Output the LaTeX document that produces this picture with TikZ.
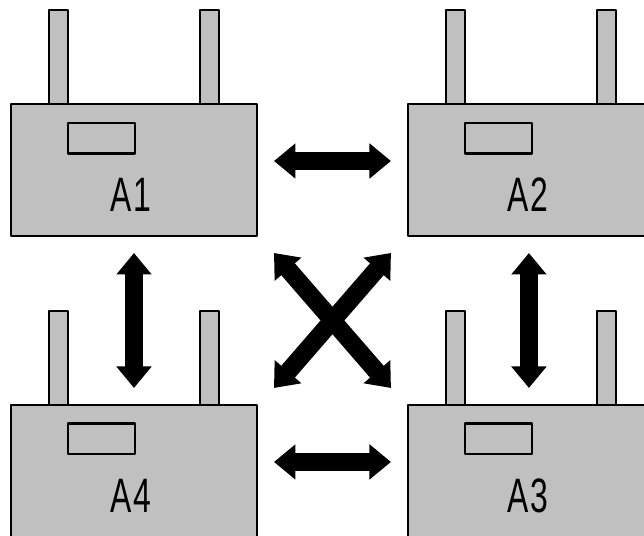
\documentclass[tikz,border=0pt]{standalone}
\usepackage{fontspec}
\usepackage{tikz}
\usetikzlibrary{positioning, arrows.meta}
\newfontfamily\unitfont[FakeStretch=0.66, LetterSpace=4]{Liberation Sans}
\definecolor{unitgray}{HTML}{C0C0C0}

\begin{document}
\begin{tikzpicture}[x=0.02cm, y=-0.02cm, on grid,
    framed/.style={draw, fill=unitgray, line width=0.05cm, line join=round, outer sep=0pt, inner sep=0pt},
    unit/.style={framed, minimum width=4.92cm, minimum height=2.64cm},
    antenna/.style={framed, minimum width=0.38cm, minimum height=1.88cm},
    screen/.style={framed, minimum width=1.34cm, minimum height=0.61cm},
    unitname/.style={font=\unitfont\fontsize{27.5}{27.5}\selectfont, inner sep=0pt},
    link/.style={line width=0.36cm, {Triangle[length=0.43cm, width=0.68cm]}-{Triangle[length=0.43cm, width=0.68cm]}}]
    \useasboundingbox (0,0) rectangle (644,535);

    \node[unit] (a1) at (134,170) {};
    \node[unit] (a2) [right=7.94cm of a1] {};
    \node[unit] (a4) [below=6.02cm of a1] {};
    \node[unit] (a3) [right=7.94cm of a4] {};

    \node[antenna] (a1l) [above left=2.26cm and 1.51cm of a1] {};
    \node[antenna] (a1r) [above right=2.26cm and 1.51cm of a1] {};
    \node[antenna] (a2l) [above left=2.26cm and 1.51cm of a2] {};
    \node[antenna] (a2r) [above right=2.26cm and 1.51cm of a2] {};
    \node[antenna] (a3l) [above left=2.26cm and 1.51cm of a3] {};
    \node[antenna] (a3r) [above right=2.26cm and 1.51cm of a3] {};
    \node[antenna] (a4l) [above left=2.26cm and 1.51cm of a4] {};
    \node[antenna] (a4r) [above right=2.26cm and 1.51cm of a4] {};

    \node[screen] (a1s) [above left=0.64cm and 0.65cm of a1] {};
    \node[screen] (a2s) [above left=0.64cm and 0.65cm of a2] {};
    \node[screen] (a3s) [above left=0.64cm and 0.65cm of a3] {};
    \node[screen] (a4s) [above left=0.64cm and 0.65cm of a4] {};

    \node[unitname] (a1n) [below left=0.49cm and 0.06cm of a1] {A1};
    \node[unitname] (a2n) [below left=0.49cm and 0.06cm of a2] {A2};
    \node[unitname] (a3n) [below left=0.49cm and 0.06cm of a3] {A3};
    \node[unitname] (a4n) [below left=0.49cm and 0.06cm of a4] {A4};

    \draw[link] ([shift={(17,-9)}]a1.east) -- ([shift={(-17,-9)}]a2.west);
    \draw[link] ([shift={(17,-9)}]a4.east) -- ([shift={(-17,-9)}]a3.west);
    \draw[link] ([yshift=-0.34cm]a1.south) -- ([yshift=0.34cm]a4.north);
    \draw[link] ([shift={(-2,17)}]a2.south) -- ([shift={(-2,-17)}]a3.north);
    \draw[link] ([shift={(17,17)}]a1.south east) -- ([shift={(-17,-17)}]a3.north west);
    \draw[link] ([shift={(-17,17)}]a2.south west) -- ([shift={(17,-17)}]a4.north east);
\end{tikzpicture}
\end{document}
